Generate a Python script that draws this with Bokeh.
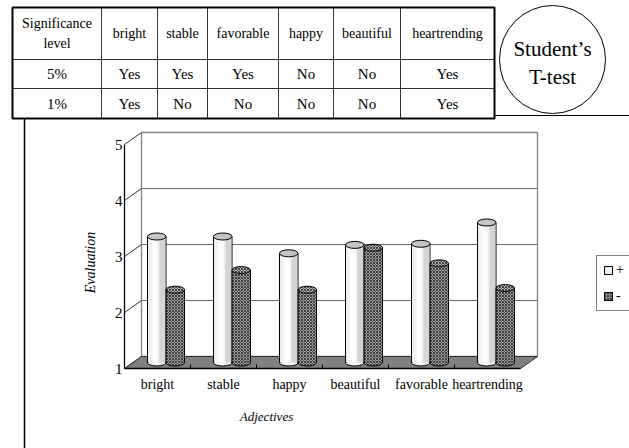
import math
from bokeh.plotting import figure
from bokeh.models import Range1d, Legend, LegendItem
from bokeh.core.properties import value
from bokeh.embed import file_html
from bokeh.resources import INLINE

# ---------------- data ----------------
table_header = ["Significance\nlevel", "bright", "stable", "favorable", "happy", "beautiful", "heartrending"]
table_levels = ["5%", "1%"]
table_5pct = ["Yes", "Yes", "Yes", "No", "No", "Yes"]
table_1pct = ["Yes", "No", "No", "No", "No", "Yes"]

categories = ["bright", "stable", "happy", "beautiful", "favorable", "heartrending"]
plus_vals = [3.25, 3.25, 2.95, 3.1, 3.12, 3.5]
minus_vals = [2.3, 2.65, 2.3, 3.05, 2.77, 2.33]
y_ticks = [1, 2, 3, 4, 5]
y_tick_labels = ["1", "2", "3", "4", "5"]
series_labels = ["+", "-"]
circle_lines = ["Student\u2019s", "T-test"]
x_title = "Adjectives"
y_title = "Evaluation"

# ---------------- layout (page pixels) ----------------
W, H, M = 629, 448, 0
TABLE_X = [12, 101, 157, 207, 278, 333, 400, 494]
TABLE_Y = [7, 59, 88, 118]
CAT0_X, CAT_W = 157, 66      # front-plane x of first category centre, px per category
V1_Y, UNIT = 368, 56          # front-plane y of value 1, px per unit
DEPTH_X, DEPTH_Y = 17, 12
SERIF = value("Liberation Serif")

p = figure(width=W, height=H, x_range=Range1d(M, M + W), y_range=Range1d(M + H, M),
           x_axis_location=None, y_axis_location=None, min_border=0,
           output_backend="svg", toolbar_location=None)
p.outline_line_color = None
p.grid.visible = False
p.background_fill_color = "white"
p.border_fill_color = "white"

p.extra_x_ranges = {"cat": Range1d((M - CAT0_X) / CAT_W, (M + W - CAT0_X) / CAT_W)}
p.extra_y_ranges = {"val": Range1d(1 - (M + H - V1_Y) / UNIT, 1 + (V1_Y - M) / UNIT)}
ck = dict(x_range_name="cat", y_range_name="val")

n = len(categories)
DX = DEPTH_X / CAT_W
DY = DEPTH_Y / UNIT
xl, xr = -0.5, n - 0.5
vmin, vmax = y_ticks[0], y_ticks[-1]

# ---------------- chart walls ----------------
p.quad(left=[xl + DX], right=[xr + DX], bottom=[vmin + DY], top=[vmax + DY],
       fill_color="white", line_color="#808080", line_width=1.3, **ck)
grid_v = y_ticks[1:-1]
p.segment(x0=[xl + DX] * len(grid_v), x1=[xr + DX] * len(grid_v),
          y0=[v + DY for v in grid_v], y1=[v + DY for v in grid_v],
          line_color="#6a6a6a", line_width=1, **ck)
p.segment(x0=[xl] * len(y_ticks), y0=y_ticks, x1=[xl + DX] * len(y_ticks),
          y1=[v + DY for v in y_ticks], line_color="#303030", line_width=1, **ck)
p.patch([xl, xr, xr + DX, xl + DX], [vmin, vmin, vmin + DY, vmin + DY],
        fill_color="#808080", line_color="#303030", line_width=1, **ck)
p.segment(x0=[xl, xl], y0=[vmin, vmin], x1=[xl, xr], y1=[vmax, vmin],
          line_color="black", line_width=1.3, **ck)
tick_x = [i + 0.5 for i in range(n - 1)]
p.segment(x0=tick_x, y0=[vmin] * len(tick_x), x1=tick_x, y1=[vmin + 4 / UNIT] * len(tick_x),
          line_color="black", line_width=1, **ck)

# ---------------- cylinders ----------------
BW, OFF = 0.28, 0.14
bottom_y = vmin + DY / 2
plus_style = dict(fill_color="#f0f0f0")
minus_style = dict(fill_color="#a0a0a0", hatch_pattern="diagonal_cross", hatch_scale=3,
                   hatch_color="#2a2a2a", hatch_weight=1, hatch_alpha=0.85)


def cylinder(xs, vals, style, shade):
    tops = [v + DY / 2 for v in vals]
    bots = [bottom_y] * len(xs)
    p.ellipse(xs, bots, width=BW, height=7, height_units="screen",
              line_color="black", line_width=1, **style, **ck)
    body = p.vbar(x=xs, width=BW, bottom=bottom_y, top=tops, line_color="black",
                  line_width=1, **style, **ck)
    # hide the flat bottom edge of the body so only the rounded base shows
    p.vbar(x=xs, width=BW * 0.9, bottom=bottom_y - 1.5 / UNIT, top=bottom_y + 1.5 / UNIT,
           line_color=None, **style, **ck)
    if shade:
        p.vbar(x=[x - 0.03 for x in xs], width=0.09, bottom=bottom_y, top=tops,
               fill_color="#fcfcfc", line_color=None, **ck)
        p.vbar(x=[x + 0.085 for x in xs], width=0.09, bottom=bottom_y, top=tops,
               fill_color="#d4d4d4", line_color=None, **ck)
        top_style = dict(fill_color="#c4c4c4")
    else:
        top_style = dict(style, fill_color="#b4b4b4")
    p.ellipse(xs, tops, width=BW, height=7, height_units="screen",
              line_color="black", line_width=1, **top_style, **ck)
    return body


plus_body = cylinder([i + DX / 2 - OFF for i in range(n)], plus_vals, plus_style, True)
minus_body = cylinder([i + DX / 2 + OFF for i in range(n)], minus_vals, minus_style, False)

# ---------------- chart texts ----------------
p.text(x=[xl] * len(y_ticks), y=y_ticks, text=y_tick_labels, text_align="right",
       text_baseline="middle", x_offset=-2, text_font=SERIF, text_font_size="15px",
       text_color="black", **ck)
p.text(x=list(range(n)), y=[vmin] * n, text=categories, text_align="center",
       text_baseline="top", y_offset=8, text_font=SERIF, text_font_size="14px",
       text_color="black", **ck)
p.text(x=[90], y=[262], text=[y_title], angle=math.pi / 2, text_align="center",
       text_baseline="middle", text_font=SERIF, text_font_style="italic",
       text_font_size="14px", text_color="black")
p.text(x=[266], y=[416], text=[x_title], text_align="center", text_baseline="middle",
       text_font=SERIF, text_font_style="italic", text_font_size="13px", text_color="black")

# ---------------- legend ----------------
legend = Legend(items=[LegendItem(label=series_labels[0], renderers=[plus_body]),
                       LegendItem(label=series_labels[1], renderers=[minus_body])],
                location=(596 - M, M + H - 311), orientation="vertical",
                border_line_color="black", border_line_width=1, background_fill_color="white",
                label_text_font="Liberation Serif", label_text_font_size="14px",
                label_text_color="black",
                glyph_width=10, glyph_height=10, label_height=14, label_standoff=3,
                padding=6, spacing=10, margin=0)
p.add_layout(legend)

# ---------------- table ----------------
inner_x = TABLE_X[1:-1]
inner_y = TABLE_Y[1:-1]
p.segment(x0=inner_x, y0=[TABLE_Y[0]] * len(inner_x), x1=inner_x, y1=[TABLE_Y[-1]] * len(inner_x),
          line_color="#333333", line_width=1)
p.segment(x0=[TABLE_X[0]] * len(inner_y), y0=inner_y, x1=[TABLE_X[-1]] * len(inner_y), y1=inner_y,
          line_color="#333333", line_width=1)
p.quad(left=[TABLE_X[0]], right=[TABLE_X[-1]], top=[TABLE_Y[0]], bottom=[TABLE_Y[-1]],
       fill_color=None, line_color="black", line_width=2)

col_cx = [(a + b) / 2 for a, b in zip(TABLE_X[:-1], TABLE_X[1:])]
row_cy = [(a + b) / 2 for a, b in zip(TABLE_Y[:-1], TABLE_Y[1:])]
p.text(x=col_cx, y=[row_cy[0]] * len(col_cx), text=table_header, text_align="center",
       text_baseline="middle", text_font=SERIF, text_font_size="14px",
       text_line_height=1.3, text_color="black")
for r, (lvl, vals) in enumerate(zip(table_levels, [table_5pct, table_1pct])):
    p.text(x=col_cx, y=[row_cy[r + 1]] * len(col_cx), text=[lvl] + vals, text_align="center",
           text_baseline="middle", text_font=SERIF, text_font_size="15px", text_color="black")

# ---------------- circle badge & frame lines ----------------
p.ellipse(x=[552], y=[59], width=106, height=108, fill_color=None, line_color="black", line_width=1)
p.text(x=[552, 552], y=[48, 76], text=circle_lines, text_align="center", text_baseline="middle",
       text_font=SERIF, text_font_size="21px", text_color="black")
p.segment(x0=[TABLE_X[-1], 24], y0=[115, TABLE_Y[-1]], x1=[M + W, 24], y1=[115, M + H],
          line_color="black", line_width=[1, 1.5])

open("out.html", "w").write(file_html(p, INLINE))
